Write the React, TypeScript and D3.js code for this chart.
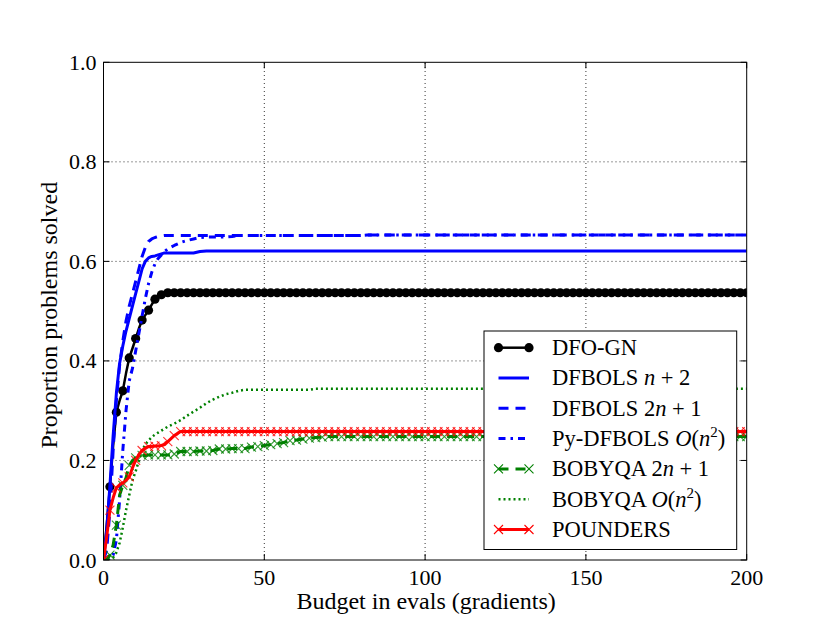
import React, { useEffect, useRef } from 'react';
import * as d3 from 'd3';

// budget grid (evals in gradients)
const budgets = [
  0, 1, 2, 3, 4, 5, 6, 7, 8, 9, 10, 11, 12, 13, 14, 15, 16, 17, 18, 19, 20,
  22, 24, 26, 28, 30, 32, 34, 36, 38, 40,
  42, 44, 46, 48, 50, 52, 54, 56, 58, 60,
  62, 64, 66, 68, 70, 72, 74, 76, 78, 80,
  82, 84, 86, 88, 90, 92, 94, 96, 98, 100,
  102, 104, 106, 108, 110, 112, 114, 116, 118, 120,
  122, 124, 126, 128, 130, 132, 134, 136, 138, 140,
  142, 144, 146, 148, 150, 152, 154, 156, 158, 160,
  162, 164, 166, 168, 170, 172, 174, 176, 178, 180,
  182, 184, 186, 188, 190, 192, 194, 196, 198, 200,
];

const dfoGn = [
  0, 0.07, 0.147, 0.23, 0.297, 0.32, 0.34, 0.375, 0.406, 0.425, 0.445, 0.465, 0.482, 0.492, 0.502, 0.513, 0.524, 0.529, 0.533, 0.535, 0.537,
  0.537, 0.537, 0.537, 0.537, 0.537, 0.537, 0.537, 0.537, 0.537, 0.537,
  0.537, 0.537, 0.537, 0.537, 0.537, 0.537, 0.537, 0.537, 0.537, 0.537,
  0.537, 0.537, 0.537, 0.537, 0.537, 0.537, 0.537, 0.537, 0.537, 0.537,
  0.537, 0.537, 0.537, 0.537, 0.537, 0.537, 0.537, 0.537, 0.537, 0.537,
  0.537, 0.537, 0.537, 0.537, 0.537, 0.537, 0.537, 0.537, 0.537, 0.537,
  0.537, 0.537, 0.537, 0.537, 0.537, 0.537, 0.537, 0.537, 0.537, 0.537,
  0.537, 0.537, 0.537, 0.537, 0.537, 0.537, 0.537, 0.537, 0.537, 0.537,
  0.537, 0.537, 0.537, 0.537, 0.537, 0.537, 0.537, 0.537, 0.537, 0.537,
  0.537, 0.537, 0.537, 0.537, 0.537, 0.537, 0.537, 0.537, 0.537, 0.537,
];

const dfbolsN2 = [
  0, 0.06, 0.15, 0.25, 0.335, 0.395, 0.43, 0.46, 0.485, 0.51, 0.535, 0.56, 0.585, 0.6, 0.607, 0.61, 0.611, 0.613, 0.615, 0.617, 0.617,
  0.617, 0.617, 0.617, 0.617, 0.62, 0.621, 0.621, 0.621, 0.621, 0.621,
  0.621, 0.621, 0.621, 0.621, 0.621, 0.621, 0.621, 0.621, 0.621, 0.621,
  0.621, 0.621, 0.621, 0.621, 0.621, 0.621, 0.621, 0.621, 0.621, 0.621,
  0.621, 0.621, 0.621, 0.621, 0.621, 0.621, 0.621, 0.621, 0.621, 0.621,
  0.621, 0.621, 0.621, 0.621, 0.621, 0.621, 0.621, 0.621, 0.621, 0.621,
  0.621, 0.621, 0.621, 0.621, 0.621, 0.621, 0.621, 0.621, 0.621, 0.621,
  0.621, 0.621, 0.621, 0.621, 0.621, 0.621, 0.621, 0.621, 0.621, 0.621,
  0.621, 0.621, 0.621, 0.621, 0.621, 0.621, 0.621, 0.621, 0.621, 0.621,
  0.621, 0.621, 0.621, 0.621, 0.621, 0.621, 0.621, 0.621, 0.621, 0.621,
];

const dfbols2n1 = [
  0, 0.02, 0.1, 0.22, 0.32, 0.39, 0.44, 0.48, 0.51, 0.535, 0.56, 0.585, 0.61, 0.628, 0.64, 0.645, 0.648, 0.65, 0.651, 0.652, 0.652,
  0.652, 0.652, 0.652, 0.652, 0.652, 0.652, 0.652, 0.652, 0.652, 0.652,
  0.652, 0.652, 0.652, 0.652, 0.652, 0.652, 0.652, 0.652, 0.652, 0.652,
  0.652, 0.652, 0.652, 0.652, 0.652, 0.652, 0.652, 0.652, 0.652, 0.652,
  0.653, 0.653, 0.653, 0.653, 0.653, 0.653, 0.653, 0.653, 0.653, 0.653,
  0.653, 0.653, 0.653, 0.653, 0.653, 0.653, 0.653, 0.653, 0.653, 0.653,
  0.653, 0.653, 0.653, 0.653, 0.653, 0.653, 0.653, 0.653, 0.653, 0.653,
  0.653, 0.653, 0.653, 0.653, 0.653, 0.653, 0.653, 0.653, 0.653, 0.653,
  0.653, 0.653, 0.653, 0.653, 0.653, 0.653, 0.653, 0.653, 0.653, 0.653,
  0.653, 0.653, 0.653, 0.653, 0.653, 0.653, 0.653, 0.653, 0.653, 0.653,
];

const pyDfbols = [
  0, 0, 0, 0.01, 0.04, 0.12, 0.22, 0.3, 0.36, 0.385, 0.42, 0.455, 0.49, 0.525, 0.555, 0.578, 0.595, 0.606, 0.613, 0.62, 0.625,
  0.632, 0.638, 0.642, 0.645, 0.648, 0.649, 0.649, 0.649, 0.649, 0.65,
  0.652, 0.652, 0.652, 0.652, 0.652, 0.652, 0.652, 0.652, 0.652, 0.652,
  0.652, 0.652, 0.652, 0.652, 0.652, 0.652, 0.652, 0.652, 0.652, 0.652,
  0.653, 0.653, 0.653, 0.653, 0.653, 0.653, 0.653, 0.653, 0.653, 0.653,
  0.653, 0.653, 0.653, 0.653, 0.653, 0.653, 0.653, 0.653, 0.653, 0.653,
  0.653, 0.653, 0.653, 0.653, 0.653, 0.653, 0.653, 0.653, 0.653, 0.653,
  0.653, 0.653, 0.653, 0.653, 0.653, 0.653, 0.653, 0.653, 0.653, 0.653,
  0.653, 0.653, 0.653, 0.653, 0.653, 0.653, 0.653, 0.653, 0.653, 0.653,
  0.653, 0.653, 0.653, 0.653, 0.653, 0.653, 0.653, 0.653, 0.653, 0.653,
];

const bobyqa2n1 = [
  0, 0, 0.01, 0.03, 0.07, 0.13, 0.15, 0.165, 0.19, 0.2, 0.205, 0.207, 0.21, 0.21, 0.211, 0.211, 0.211, 0.211, 0.211, 0.211, 0.211,
  0.213, 0.218, 0.218, 0.218, 0.219, 0.219, 0.22, 0.223, 0.223, 0.224,
  0.224, 0.224, 0.227, 0.228, 0.23, 0.232, 0.234, 0.236, 0.24, 0.241,
  0.243, 0.245, 0.246, 0.247, 0.248, 0.248, 0.248, 0.248, 0.248, 0.248,
  0.248, 0.248, 0.248, 0.248, 0.248, 0.248, 0.248, 0.248, 0.248, 0.248,
  0.248, 0.248, 0.248, 0.248, 0.248, 0.248, 0.248, 0.248, 0.248, 0.248,
  0.248, 0.248, 0.248, 0.248, 0.248, 0.248, 0.248, 0.248, 0.248, 0.248,
  0.248, 0.248, 0.248, 0.248, 0.248, 0.248, 0.248, 0.248, 0.248, 0.248,
  0.248, 0.248, 0.248, 0.248, 0.248, 0.248, 0.248, 0.248, 0.248, 0.248,
  0.248, 0.248, 0.248, 0.248, 0.248, 0.248, 0.248, 0.248, 0.248, 0.248,
];

const bobyqaOn2 = [
  0, 0, 0, 0.005, 0.015, 0.034, 0.065, 0.1, 0.13, 0.16, 0.178, 0.2, 0.22, 0.232, 0.24, 0.247, 0.252, 0.256, 0.26, 0.264, 0.268,
  0.274, 0.281, 0.29, 0.298, 0.306, 0.315, 0.322, 0.328, 0.333, 0.336,
  0.34, 0.342, 0.342, 0.342, 0.342, 0.342, 0.342, 0.342, 0.342, 0.342,
  0.342, 0.342, 0.344, 0.344, 0.344, 0.344, 0.344, 0.344, 0.344, 0.344,
  0.344, 0.344, 0.344, 0.344, 0.344, 0.344, 0.344, 0.344, 0.344, 0.344,
  0.344, 0.344, 0.344, 0.344, 0.344, 0.344, 0.344, 0.344, 0.344, 0.344,
  0.344, 0.344, 0.344, 0.344, 0.344, 0.344, 0.344, 0.344, 0.344, 0.344,
  0.344, 0.344, 0.344, 0.344, 0.344, 0.344, 0.344, 0.344, 0.344, 0.344,
  0.344, 0.344, 0.344, 0.344, 0.344, 0.344, 0.344, 0.344, 0.344, 0.344,
  0.344, 0.344, 0.344, 0.344, 0.344, 0.344, 0.344, 0.344, 0.344, 0.344,
];

const pounders = [
  0, 0.047, 0.1, 0.125, 0.145, 0.151, 0.155, 0.16, 0.167, 0.185, 0.2, 0.212, 0.22, 0.225, 0.228, 0.228, 0.229, 0.229, 0.23, 0.232, 0.238,
  0.25, 0.258, 0.258, 0.258, 0.258, 0.258, 0.258, 0.258, 0.258, 0.258,
  0.258, 0.258, 0.258, 0.258, 0.258, 0.258, 0.258, 0.258, 0.258, 0.258,
  0.258, 0.258, 0.258, 0.258, 0.258, 0.258, 0.258, 0.258, 0.258, 0.258,
  0.258, 0.258, 0.258, 0.258, 0.258, 0.258, 0.258, 0.258, 0.258, 0.258,
  0.258, 0.258, 0.258, 0.258, 0.258, 0.258, 0.258, 0.258, 0.258, 0.258,
  0.258, 0.258, 0.258, 0.258, 0.258, 0.258, 0.258, 0.258, 0.258, 0.258,
  0.258, 0.258, 0.258, 0.258, 0.258, 0.258, 0.258, 0.258, 0.258, 0.258,
  0.258, 0.258, 0.258, 0.258, 0.258, 0.258, 0.258, 0.258, 0.258, 0.258,
  0.258, 0.258, 0.258, 0.258, 0.258, 0.258, 0.258, 0.258, 0.258, 0.258,
];

const xTicks = [0, 50, 100, 150, 200];
const yTicks = [0, 0.2, 0.4, 0.6, 0.8, 1.0];

type Part = { t: string; italic?: boolean; sup?: boolean };

interface Series {
  values: number[];
  color: string;
  width: number;
  dash?: string;
  marker?: 'o' | 'x';
  label: Part[];
}

const series: Series[] = [
  { values: dfoGn, color: '#000000', width: 2.5, marker: 'o', label: [{ t: 'DFO-GN' }] },
  { values: dfbolsN2, color: '#0000ff', width: 3, label: [{ t: 'DFBOLS ' }, { t: 'n', italic: true }, { t: ' + 2' }] },
  { values: dfbols2n1, color: '#0000ff', width: 3, dash: '10,7', label: [{ t: 'DFBOLS 2' }, { t: 'n', italic: true }, { t: ' + 1' }] },
  {
    values: pyDfbols, color: '#0000ff', width: 3, dash: '7,5,2.5,5',
    label: [{ t: 'Py-DFBOLS ' }, { t: 'O', italic: true }, { t: '(' }, { t: 'n', italic: true }, { t: '2', sup: true }, { t: ')' }],
  },
  { values: bobyqa2n1, color: '#008000', width: 3, dash: '10,7', marker: 'x', label: [{ t: 'BOBYQA 2' }, { t: 'n', italic: true }, { t: ' + 1' }] },
  {
    values: bobyqaOn2, color: '#008000', width: 2.5, dash: '2,3',
    label: [{ t: 'BOBYQA ' }, { t: 'O', italic: true }, { t: '(' }, { t: 'n', italic: true }, { t: '2', sup: true }, { t: ')' }],
  },
  { values: pounders, color: '#ff0000', width: 3, marker: 'x', label: [{ t: 'POUNDERS' }] },
];

const W = 830;
const H = 623;
const margin = { top: 62.3, right: 83.3, bottom: 63, left: 103.5 };
const FONT = "'Liberation Serif', 'DejaVu Serif', serif";

export default function App() {
  const svgRef = useRef<SVGSVGElement>(null);

  useEffect(() => {
    document.body.style.margin = '0';
    if (!svgRef.current) return;
    const svg = d3.select(svgRef.current);
    svg.selectAll('*').remove();

    const x = d3.scaleLinear().domain([0, 200]).range([margin.left, W - margin.right]);
    const y = d3.scaleLinear().domain([0, 1]).range([H - margin.bottom, margin.top]);

    const x0 = margin.left, x1 = W - margin.right, y0 = H - margin.bottom, y1 = margin.top;

    svg.append('rect').attr('width', W).attr('height', H).attr('fill', '#ffffff');

    svg.append('defs').append('clipPath').attr('id', 'plot-clip')
      .append('rect').attr('x', x0).attr('y', y1).attr('width', x1 - x0).attr('height', y0 - y1);

    // Grid
    const grid = svg.append('g').attr('stroke', '#000').attr('stroke-width', 0.8).attr('stroke-dasharray', '1,3');
    xTicks.slice(1, -1).forEach(t => {
      grid.append('line').attr('x1', x(t)).attr('x2', x(t)).attr('y1', y0).attr('y2', y1);
    });
    yTicks.slice(1, -1).forEach(t => {
      grid.append('line').attr('x1', x0).attr('x2', x1).attr('y1', y(t)).attr('y2', y(t));
    });

    // Lines
    const plot = svg.append('g').attr('clip-path', 'url(#plot-clip)');
    const line = d3.line<number>()
      .x((_, i) => x(budgets[i]))
      .y(d => y(d));

    const xMark = (cx: number, cy: number, sz: number) =>
      `M${cx - sz},${cy - sz}L${cx + sz},${cy + sz}M${cx - sz},${cy + sz}L${cx + sz},${cy - sz}`;

    series.forEach(s => {
      plot.append('path')
        .datum(s.values)
        .attr('fill', 'none')
        .attr('stroke', s.color)
        .attr('stroke-width', s.width)
        .attr('stroke-dasharray', s.dash || null)
        .attr('stroke-linejoin', 'round')
        .attr('d', line);

      if (s.marker) {
        const pts = s.values
          .map((v, i) => [budgets[i], v] as [number, number])
          .filter(([b]) => b % 2 === 0 && (s.marker === 'x' || b > 0));
        if (s.marker === 'o') {
          plot.selectAll(null).data(pts).enter().append('circle')
            .attr('cx', d => x(d[0])).attr('cy', d => y(d[1]))
            .attr('r', 4.6).attr('fill', s.color);
        } else {
          plot.selectAll(null).data(pts).enter().append('path')
            .attr('d', d => xMark(x(d[0]), y(d[1]), 4.5))
            .attr('stroke', s.color).attr('stroke-width', 1.1)
            .attr('stroke-opacity', 0.8).attr('fill', 'none');
        }
      }
    });

    // Frame
    svg.append('rect').attr('x', x0).attr('y', y1).attr('width', x1 - x0).attr('height', y0 - y1)
      .attr('fill', 'none').attr('stroke', '#000').attr('stroke-width', 1);

    // Ticks (inside, all sides)
    const tl = 6;
    const ticks = svg.append('g').attr('stroke', '#000').attr('stroke-width', 1);
    xTicks.forEach(t => {
      ticks.append('line').attr('x1', x(t)).attr('x2', x(t)).attr('y1', y0).attr('y2', y0 - tl);
      ticks.append('line').attr('x1', x(t)).attr('x2', x(t)).attr('y1', y1).attr('y2', y1 + tl);
    });
    yTicks.forEach(t => {
      ticks.append('line').attr('x1', x0).attr('x2', x0 + tl).attr('y1', y(t)).attr('y2', y(t));
      ticks.append('line').attr('x1', x1).attr('x2', x1 - tl).attr('y1', y(t)).attr('y2', y(t));
    });

    // Tick labels
    const fmt = d3.format('.1f');
    svg.append('g').selectAll('text').data(xTicks).enter().append('text')
      .attr('x', d => x(d)).attr('y', y0 + 25)
      .attr('text-anchor', 'middle')
      .attr('font-family', FONT).attr('font-size', 22)
      .text(d => String(d));
    svg.append('g').selectAll('text').data(yTicks).enter().append('text')
      .attr('x', x0 - 7).attr('y', d => y(d) + 7.5)
      .attr('text-anchor', 'end')
      .attr('font-family', FONT).attr('font-size', 22)
      .text(d => fmt(d));

    // Axis labels
    svg.append('text')
      .attr('x', (x0 + x1) / 2 + 1).attr('y', 609)
      .attr('text-anchor', 'middle')
      .attr('font-family', FONT).attr('font-size', 24)
      .text('Budget in evals (gradients)');
    svg.append('text')
      .attr('transform', `translate(57,${(y0 + y1) / 2 + 4}) rotate(-90)`)
      .attr('text-anchor', 'middle')
      .attr('font-family', FONT).attr('font-size', 24)
      .text('Proportion problems solved');

    // Legend
    const lg = svg.append('g');
    lg.append('rect').attr('x', 484).attr('y', 331).attr('width', 252.7).attr('height', 218.5)
      .attr('fill', '#fff').attr('stroke', '#000').attr('stroke-width', 1);
    series.forEach((s, i) => {
      const cy = 347.7 + i * 30.3;
      const hx0 = 498.5, hx1 = 529;
      lg.append('line').attr('x1', hx0).attr('x2', hx1).attr('y1', cy).attr('y2', cy)
        .attr('stroke', s.color).attr('stroke-width', s.width)
        .attr('stroke-dasharray', s.dash || null);
      if (s.marker === 'o') {
        [hx0, hx1].forEach(px => lg.append('circle').attr('cx', px).attr('cy', cy).attr('r', 4.6).attr('fill', s.color));
      } else if (s.marker === 'x') {
        [hx0, hx1].forEach(px => lg.append('path')
          .attr('d', xMark(px, cy, 4.5))
          .attr('stroke', s.color).attr('stroke-width', 1.1).attr('fill', 'none'));
      }
      const txt = lg.append('text').attr('x', 552).attr('y', cy + 7.3)
        .attr('font-family', FONT).attr('font-size', 22.5);
      s.label.forEach((p, j) => {
        const ts = txt.append('tspan').text(p.t);
        if (p.italic) ts.attr('font-style', 'italic');
        if (p.sup) ts.attr('font-size', 15).attr('dy', -9);
        else if (j > 0 && s.label[j - 1].sup) ts.attr('dy', 9);
      });
    });
  }, []);

  return <svg ref={svgRef} width={W} height={H} style={{ display: 'block' }} />;
}
